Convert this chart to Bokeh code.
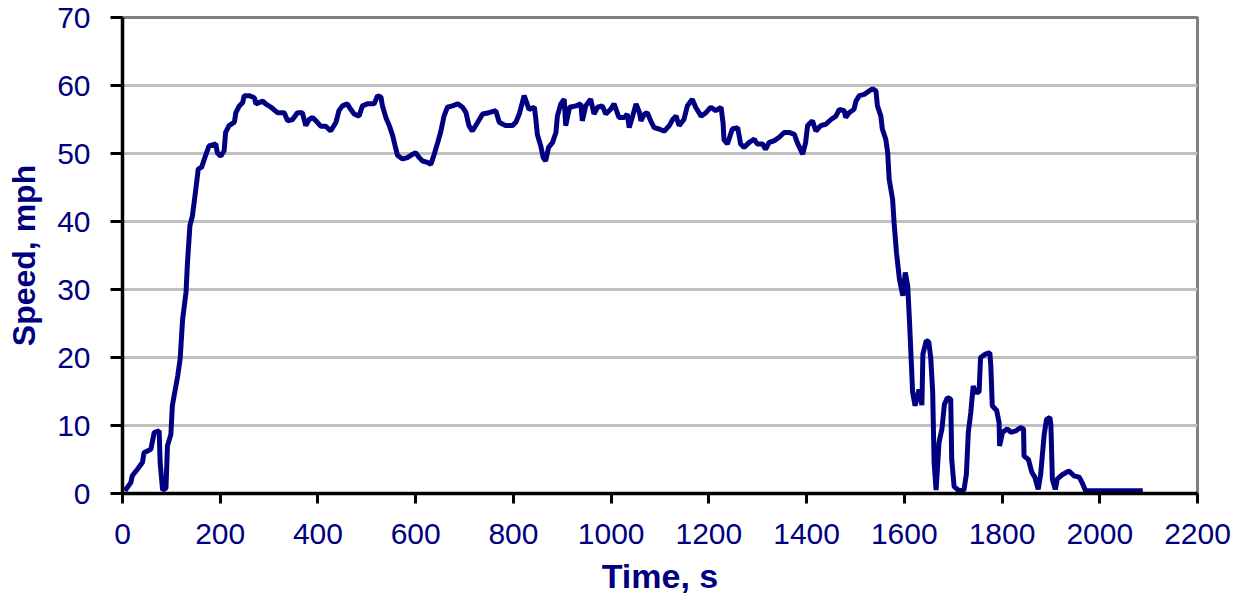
from bokeh.plotting import figure
from bokeh.models import Range1d, FixedTicker
from bokeh.embed import file_html
from bokeh.resources import INLINE

# Data
time_s = [5, 17, 20, 31, 41, 44, 58, 65, 75, 77, 82, 89, 92, 99, 102, 107, 113, 118, 123, 130,
          133, 138, 143, 150, 155, 162, 170, 177, 191, 194, 201, 208, 211, 218, 229, 232, 239, 246,
          249, 259, 270, 273, 287, 293, 304, 317, 331, 338, 348, 358, 368, 375, 382, 389, 396, 406,
          416, 426, 437, 443, 450, 460, 467, 474, 484, 491, 501, 515, 522, 529, 532, 539, 546, 553,
          558, 563, 573, 583, 594, 600, 607, 614, 624, 631, 638, 645, 651, 658, 665, 675, 686, 696,
          703, 709, 716, 727, 737, 750, 764, 771, 784, 798, 805, 812, 822, 832, 843, 846, 849, 856,
          861, 866, 872, 880, 887, 890, 897, 904, 907, 915, 928, 938, 941, 948, 958, 965, 972, 982,
          989, 999, 1006, 1016, 1027, 1033, 1037, 1044, 1051, 1058, 1061, 1068, 1074, 1081, 1088,
          1098, 1109, 1119, 1126, 1133, 1139, 1149, 1156, 1166, 1173, 1184, 1194, 1204, 1214, 1225,
          1229, 1231, 1238, 1248, 1259, 1265, 1272, 1282, 1293, 1299, 1310, 1316, 1323, 1334, 1344,
          1354, 1364, 1375, 1381, 1392, 1398, 1402, 1412, 1419, 1429, 1439, 1450, 1460, 1467, 1477,
          1480, 1487, 1497, 1501, 1508, 1518, 1528, 1535, 1542, 1545, 1552, 1555, 1562, 1566, 1569,
          1576, 1579, 1584, 1590, 1597, 1602, 1607, 1611, 1617, 1622, 1630, 1636, 1638, 1645, 1650,
          1654, 1658, 1661, 1665, 1671, 1677, 1682, 1688, 1695, 1697, 1702, 1712, 1722, 1727, 1731,
          1736, 1741, 1746, 1753, 1756, 1766, 1775, 1777, 1780, 1789, 1794, 1795, 1801, 1811, 1818,
          1828, 1838, 1844, 1845, 1854, 1861, 1867, 1874, 1879, 1886, 1891, 1898, 1900, 1903, 1909,
          1913, 1924, 1937, 1947, 1958, 1965, 1971, 2088]
speed_mph = [0.4, 1.6, 2.6, 3.6, 4.6, 6.0, 6.5, 9.0, 9.2, 4.6, 0.5, 0.8, 7.0, 8.7, 12.9, 14.9, 17.3, 19.8, 25.6, 29.6,
             34.0, 39.4, 40.8, 44.7, 47.7, 48.0, 49.7, 51.1, 51.4, 50.1, 49.6, 50.4, 53.1, 54.1, 54.6, 56.0, 57.0, 57.5,
             58.5, 58.5, 58.2, 57.3, 57.7, 57.3, 56.8, 56.0, 56.0, 54.8, 55.0, 56.0, 56.0, 54.1, 55.0, 55.3, 54.8, 54.0,
             54.0, 53.3, 54.6, 56.3, 57.0, 57.3, 56.5, 55.8, 55.5, 57.0, 57.3, 57.3, 58.5, 58.3, 57.0, 55.3, 54.1, 52.6,
             51.1, 49.7, 49.2, 49.4, 49.9, 50.1, 49.4, 48.9, 48.7, 48.4, 49.9, 51.6, 53.1, 55.5, 56.8, 57.0, 57.3, 56.8,
             56.0, 54.1, 53.3, 54.6, 55.8, 56.0, 56.3, 54.6, 54.1, 54.1, 54.6, 55.8, 58.5, 56.5, 56.8, 55.0, 52.8, 51.1,
             49.4, 48.9, 50.9, 51.6, 53.1, 55.5, 57.3, 58.0, 54.1, 56.8, 57.0, 57.3, 54.8, 57.0, 58.0, 55.8, 56.8, 57.0,
             55.8, 56.5, 57.3, 55.3, 55.3, 55.8, 53.8, 55.5, 57.3, 56.0, 54.8, 55.8, 56.0, 54.8, 53.8,
             53.6, 53.3, 54.1, 55.0, 55.5, 54.1, 55.0, 57.0, 58.0, 56.8, 55.5, 56.0, 56.8, 56.3, 56.8,
             54.5, 52.0, 51.4, 53.6, 53.8, 51.4, 50.9, 51.6, 52.1, 51.4, 51.4, 50.6, 51.6, 51.9, 52.4,
             53.1, 53.1, 52.8, 51.6, 49.9, 51.6, 54.1, 54.8, 53.3, 54.1, 54.3, 55.0, 55.5, 56.5, 56.3,
             55.3, 56.0, 56.5, 57.7, 58.5, 58.7, 59.2, 59.5, 59.2, 57.0, 55.5, 53.6, 52.1, 50.1, 46.2,
             43.3, 39.9, 35.4, 31.5, 29.1, 32.5, 30.5, 24.7, 14.9, 12.9, 15.3, 13.0, 20.5, 22.5, 22.3,
             20.0, 15.0, 4.5, 0.5, 7.5, 9.5, 13.1, 14.1, 13.9, 5.0, 1.0, 0.4, 0.5, 2.8, 9.0,
             11.9, 15.8, 14.9, 14.9, 20.0, 20.5, 20.7, 18.8, 12.9, 12.2, 10.4, 7.0, 9.0, 9.5, 9.0,
             9.2, 9.7, 9.5, 5.5, 5.0, 3.1, 2.4, 0.6, 2.8, 8.5, 10.9, 11.2, 10.0, 2.1, 0.6,
             2.1, 2.8, 3.3, 2.6, 2.4, 1.4, 0.4, 0.4]

x_ticks = [0, 200, 400, 600, 800, 1000, 1200, 1400, 1600, 1800, 2000, 2200]
y_ticks = [0, 10, 20, 30, 40, 50, 60, 70]

NAVY = "#000080"
FONT = "Liberation Sans"

p = figure(width=1235, height=600, output_backend="svg", toolbar_location=None,
           x_range=Range1d(0, 2200), y_range=Range1d(0, 70))
p.min_border_left = 122
p.min_border_right = 38
p.min_border_top = 17
p.min_border_bottom = 107
p.background_fill_color = "white"
p.border_fill_color = "white"
p.outline_line_color = "#808080"
p.outline_line_width = 3

p.line(time_s, speed_mph, line_color=NAVY, line_width=5)

p.xaxis.ticker = FixedTicker(ticks=x_ticks)
p.yaxis.ticker = FixedTicker(ticks=y_ticks)
p.xgrid.visible = False
p.ygrid.grid_line_color = "#C0C0C0"
p.ygrid.grid_line_width = 3

for ax in (p.xaxis, p.yaxis):
    ax.axis_line_color = "black"
    ax.axis_line_width = 3.5
    ax.major_tick_line_color = "black"
    ax.major_tick_line_width = 3
    ax.major_tick_in = 0
    ax.minor_tick_line_color = None
    ax.major_label_text_font = FONT
    ax.major_label_text_font_size = "30px"
    ax.major_label_text_color = NAVY
    ax.axis_label_text_font = FONT
    ax.axis_label_text_font_style = "bold"
    ax.axis_label_text_color = NAVY

p.yaxis.major_tick_out = 12
p.xaxis.major_tick_out = 10
p.yaxis.major_label_standoff = 20
p.xaxis.major_label_standoff = 20
p.yaxis.axis_label = "Speed, mph"
p.xaxis.axis_label = "Time, s"
p.yaxis.axis_label_text_font_size = "32px"
p.xaxis.axis_label_text_font_size = "34px"
p.yaxis.axis_label_standoff = 12
p.xaxis.axis_label_standoff = 10

open("out.html", "w").write(file_html(p, INLINE))
